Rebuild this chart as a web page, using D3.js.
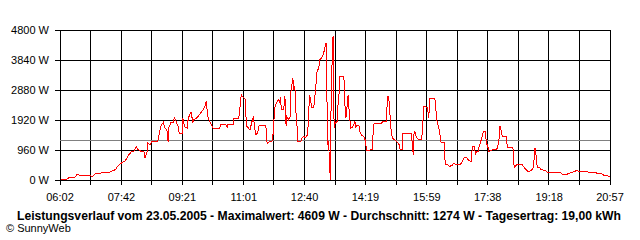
<!DOCTYPE html>
<html>
<head>
    <style>
        body { margin: 0; background: #fff; }
        text { font-family: "Liberation Sans", Arial, sans-serif; font-size: 11px; fill: #000; }
        .title { font-weight: bold; font-size: 12px; }
        .grid line, .frame { stroke: #000; stroke-width: 1; shape-rendering: crispEdges; }
    </style>
    <script src="https://d3js.org/d3.v7.min.js"></script>
</head>
<body>
    <svg width="640" height="240"></svg>
    <script>

        // power readings (time of day, watts)
        let times = [
            "06:04","06:13","06:17","06:26","06:30","06:35","06:51","06:54","06:59","07:07",
            "07:14","07:20","07:25","07:32","07:36","07:41","07:48","07:51","07:54","07:58",
            "08:02","08:06","08:09","08:14","08:19","08:20","08:24","08:25","08:28","08:32",
            "08:41","08:43","08:46","08:50","08:51","08:53","08:56","08:58","08:59","09:03",
            "09:06","09:08","09:11","09:14","09:16","09:21","09:22","09:23","09:25","09:29",
            "09:30","09:32","09:35","09:37","09:38","09:40","09:43","09:47","09:51","09:55",
            "09:58","10:00","10:01","10:03","10:06","10:09","10:11","10:22","10:24","10:31",
            "10:34","10:35","10:44","10:45","10:53","10:55","10:57","10:58","11:03","11:04",
            "11:05","11:06","11:10","11:12","11:13","11:16","11:17","11:18","11:20","11:21",
            "11:24","11:26","11:36","11:38","11:39","11:42","11:44","11:47","11:49","11:50",
            "11:51","11:52","11:55","11:58","12:00","12:01","12:02","12:06","12:08","12:09",
            "12:10","12:11","12:14","12:17","12:18","12:21","12:22","12:24","12:25","12:26",
            "12:28","12:29","12:34","12:36","12:39","12:41","12:44","12:46","12:48","12:50",
            "12:51","12:55","12:57","12:59","13:00","13:03","13:05","13:08","13:11","13:13",
            "13:14","13:15","13:16","13:18","13:19","13:21","13:22","13:23","13:24","13:25",
            "13:26","13:27","13:28","13:30","13:33","13:34","13:36","13:37","13:44","13:45",
            "13:47","13:48","13:50","13:51","13:52","13:53","13:55","13:58","14:00","14:02",
            "14:03","14:06","14:09","14:10","14:12","14:16","14:18","14:19","14:21","14:30",
            "14:31","14:33","14:44","14:46","14:49","14:53","14:55","14:57","14:58","15:00",
            "15:01","15:03","15:06","15:08","15:11","15:14","15:15","15:19","15:20","15:34",
            "15:35","15:36","15:37","15:38","15:39","15:41","15:43","15:46","15:50","15:52",
            "15:53","15:54","15:57","16:00","16:02","16:03","16:04","16:12","16:14","16:16",
            "16:18","16:19","16:21","16:22","16:27","16:28","16:29","16:33","16:35","16:40",
            "16:42","16:45","16:54","16:57","17:00","17:04","17:07","17:11","17:12","17:14",
            "17:16","17:18","17:20","17:23","17:24","17:26","17:29","17:31","17:34","17:35",
            "17:36","17:38","17:40","17:43","17:46","17:51","17:54","17:56","17:57","17:58",
            "18:00","18:01","18:02","18:08","18:09","18:10","18:19","18:20","18:21","18:24",
            "18:27","18:29","18:34","18:35","18:38","18:42","18:45","18:48","18:50","18:52",
            "18:53","18:54","18:55","18:57","18:58","18:59","19:03","19:05","19:11","19:16",
            "19:35","19:38","19:40","19:46","19:49","19:54","20:00","20:02","20:08","20:21",
            "20:32","20:35","20:40","20:46","20:48","20:54","20:57"
        ];
        let watts = [
            32,32,80,86,182,150,150,106,192,214,
            246,224,278,330,438,534,608,704,810,896,
            906,1066,970,918,896,694,906,1184,1120,1238,
            1238,1430,1718,1846,1770,1664,1610,1206,1664,1856,
            1824,1984,1878,1718,1504,1504,1984,1878,1696,1664,
            1878,2038,2176,1984,1824,1930,1962,2038,2144,2250,
            2358,2518,2326,1984,1856,1750,1664,1664,1792,1792,
            1696,1792,1792,1984,1984,2358,2752,2678,2602,2496,
            1824,1718,1632,1632,1770,1984,2038,1770,1504,1430,
            1536,1738,1738,1610,1152,1206,1238,1238,1504,1898,
            2112,2358,2496,2570,2464,2646,2250,2250,2678,2090,
            1718,2038,1930,2038,2890,3264,2890,2998,2730,2144,
            1664,1238,1238,1344,1398,1344,1430,1770,2730,2570,
            2326,2326,2730,3158,3456,3584,3850,3904,4064,4224,
            4384,4384,2944,1130,1238,384,10,2208,2250,4438,
            4544,4609,1664,1824,1878,2304,2720,3318,3318,2624,
            1984,2090,2570,2730,2358,2090,1664,1686,1770,1878,
            1696,1750,1718,1558,1450,1398,1322,1238,938,970,
            1344,1802,1802,1846,1878,1878,2678,2678,2304,1878,
            1504,1344,1290,1258,1206,1130,992,970,1504,1504,
            1206,992,810,1450,1578,1430,1344,1290,1290,1558,
            2038,2346,2346,2304,1984,2304,2602,2602,2198,1770,
            1750,1610,1344,1216,1216,810,512,490,438,458,
            544,512,512,598,726,726,618,598,864,1078,
            1078,832,918,918,1078,1184,1398,1536,1558,1344,
            1184,1078,918,938,970,970,1024,1238,1450,1718,
            1558,1472,1398,1398,1238,1056,1056,758,406,470,
            512,490,512,470,384,298,256,298,330,384,
            544,810,1024,758,490,406,384,330,310,234,
            246,214,170,170,202,234,278,298,278,256,
            256,224,224,170,138,128,106
        ];

        let yTicks = [0, 960, 1920, 2880, 3840, 4800];
        let xLabels = ["06:02","07:42","09:21","11:01","12:40","14:19","15:59","17:38","19:18","20:57"];
        let average = 1274;
        let titleText = "Leistungsverlauf vom 23.05.2005 - Maximalwert: 4609 W - Durchschnitt: 1274 W - Tagesertrag: 19,00 kWh";
        let credit = "\u00a9 SunnyWeb";

        let svg = d3.select("svg");
        let parse = d3.timeParse("%H:%M");
        let plotLeft = 60, plotRight = 610, plotTop = 30, plotBottom = 180;
        let columns = 18;

        let x = d3.scaleTime()
            .domain([parse(xLabels[0]), parse(xLabels[xLabels.length - 1])])
            .range([plotLeft, plotRight]);
        let y = d3.scaleLinear()
            .domain([0, 4800])
            .range([plotBottom, plotTop]);

        let colX = d3.range(columns + 1).map(i => plotLeft + i * (plotRight - plotLeft) / columns);

        let grid = svg.append("g").attr("class", "grid");

        // vertical grid + ticks below
        grid.selectAll(".v")
            .data(colX)
            .enter().append("line")
            .attr("x1", d => d).attr("x2", d => d)
            .attr("y1", plotTop).attr("y2", plotBottom + 5);

        // horizontal grid + ticks left
        grid.selectAll(".h")
            .data(yTicks)
            .enter().append("line")
            .attr("x1", plotLeft - 5).attr("x2", plotRight)
            .attr("y1", d => y(d)).attr("y2", d => y(d));

        svg.append("rect")
            .attr("class", "frame")
            .attr("x", plotLeft).attr("y", plotTop)
            .attr("width", plotRight - plotLeft).attr("height", plotBottom - plotTop)
            .attr("fill", "none");

        // average line
        svg.append("line")
            .attr("x1", plotLeft).attr("x2", plotRight)
            .attr("y1", y(average)).attr("y2", y(average))
            .attr("stroke", "#808080")
            .attr("shape-rendering", "crispEdges");

        let line = d3.line()
            .x((d, i) => x(parse(times[i])))
            .y(d => y(d));

        svg.append("path")
            .datum(watts)
            .attr("d", line)
            .attr("fill", "none")
            .attr("stroke", "#ff0000")
            .attr("stroke-width", 1)
            .attr("shape-rendering", "crispEdges");

        // axis labels
        svg.selectAll(".ylab")
            .data(yTicks)
            .enter().append("text")
            .attr("x", 49)
            .attr("y", d => y(d) + 4)
            .attr("text-anchor", "end")
            .text(d => d + " W");

        svg.selectAll(".xlab")
            .data(xLabels)
            .enter().append("text")
            .attr("x", d => x(parse(d)))
            .attr("y", 201)
            .attr("text-anchor", "middle")
            .text(d => d);

        svg.append("text")
            .attr("class", "title")
            .attr("x", 17)
            .attr("y", 220)
            .attr("textLength", 604)
            .attr("lengthAdjust", "spacingAndGlyphs")
            .text(titleText);

        svg.append("text")
            .attr("x", 6)
            .attr("y", 232)
            .text(credit);
     </script>
</body>
</html>
